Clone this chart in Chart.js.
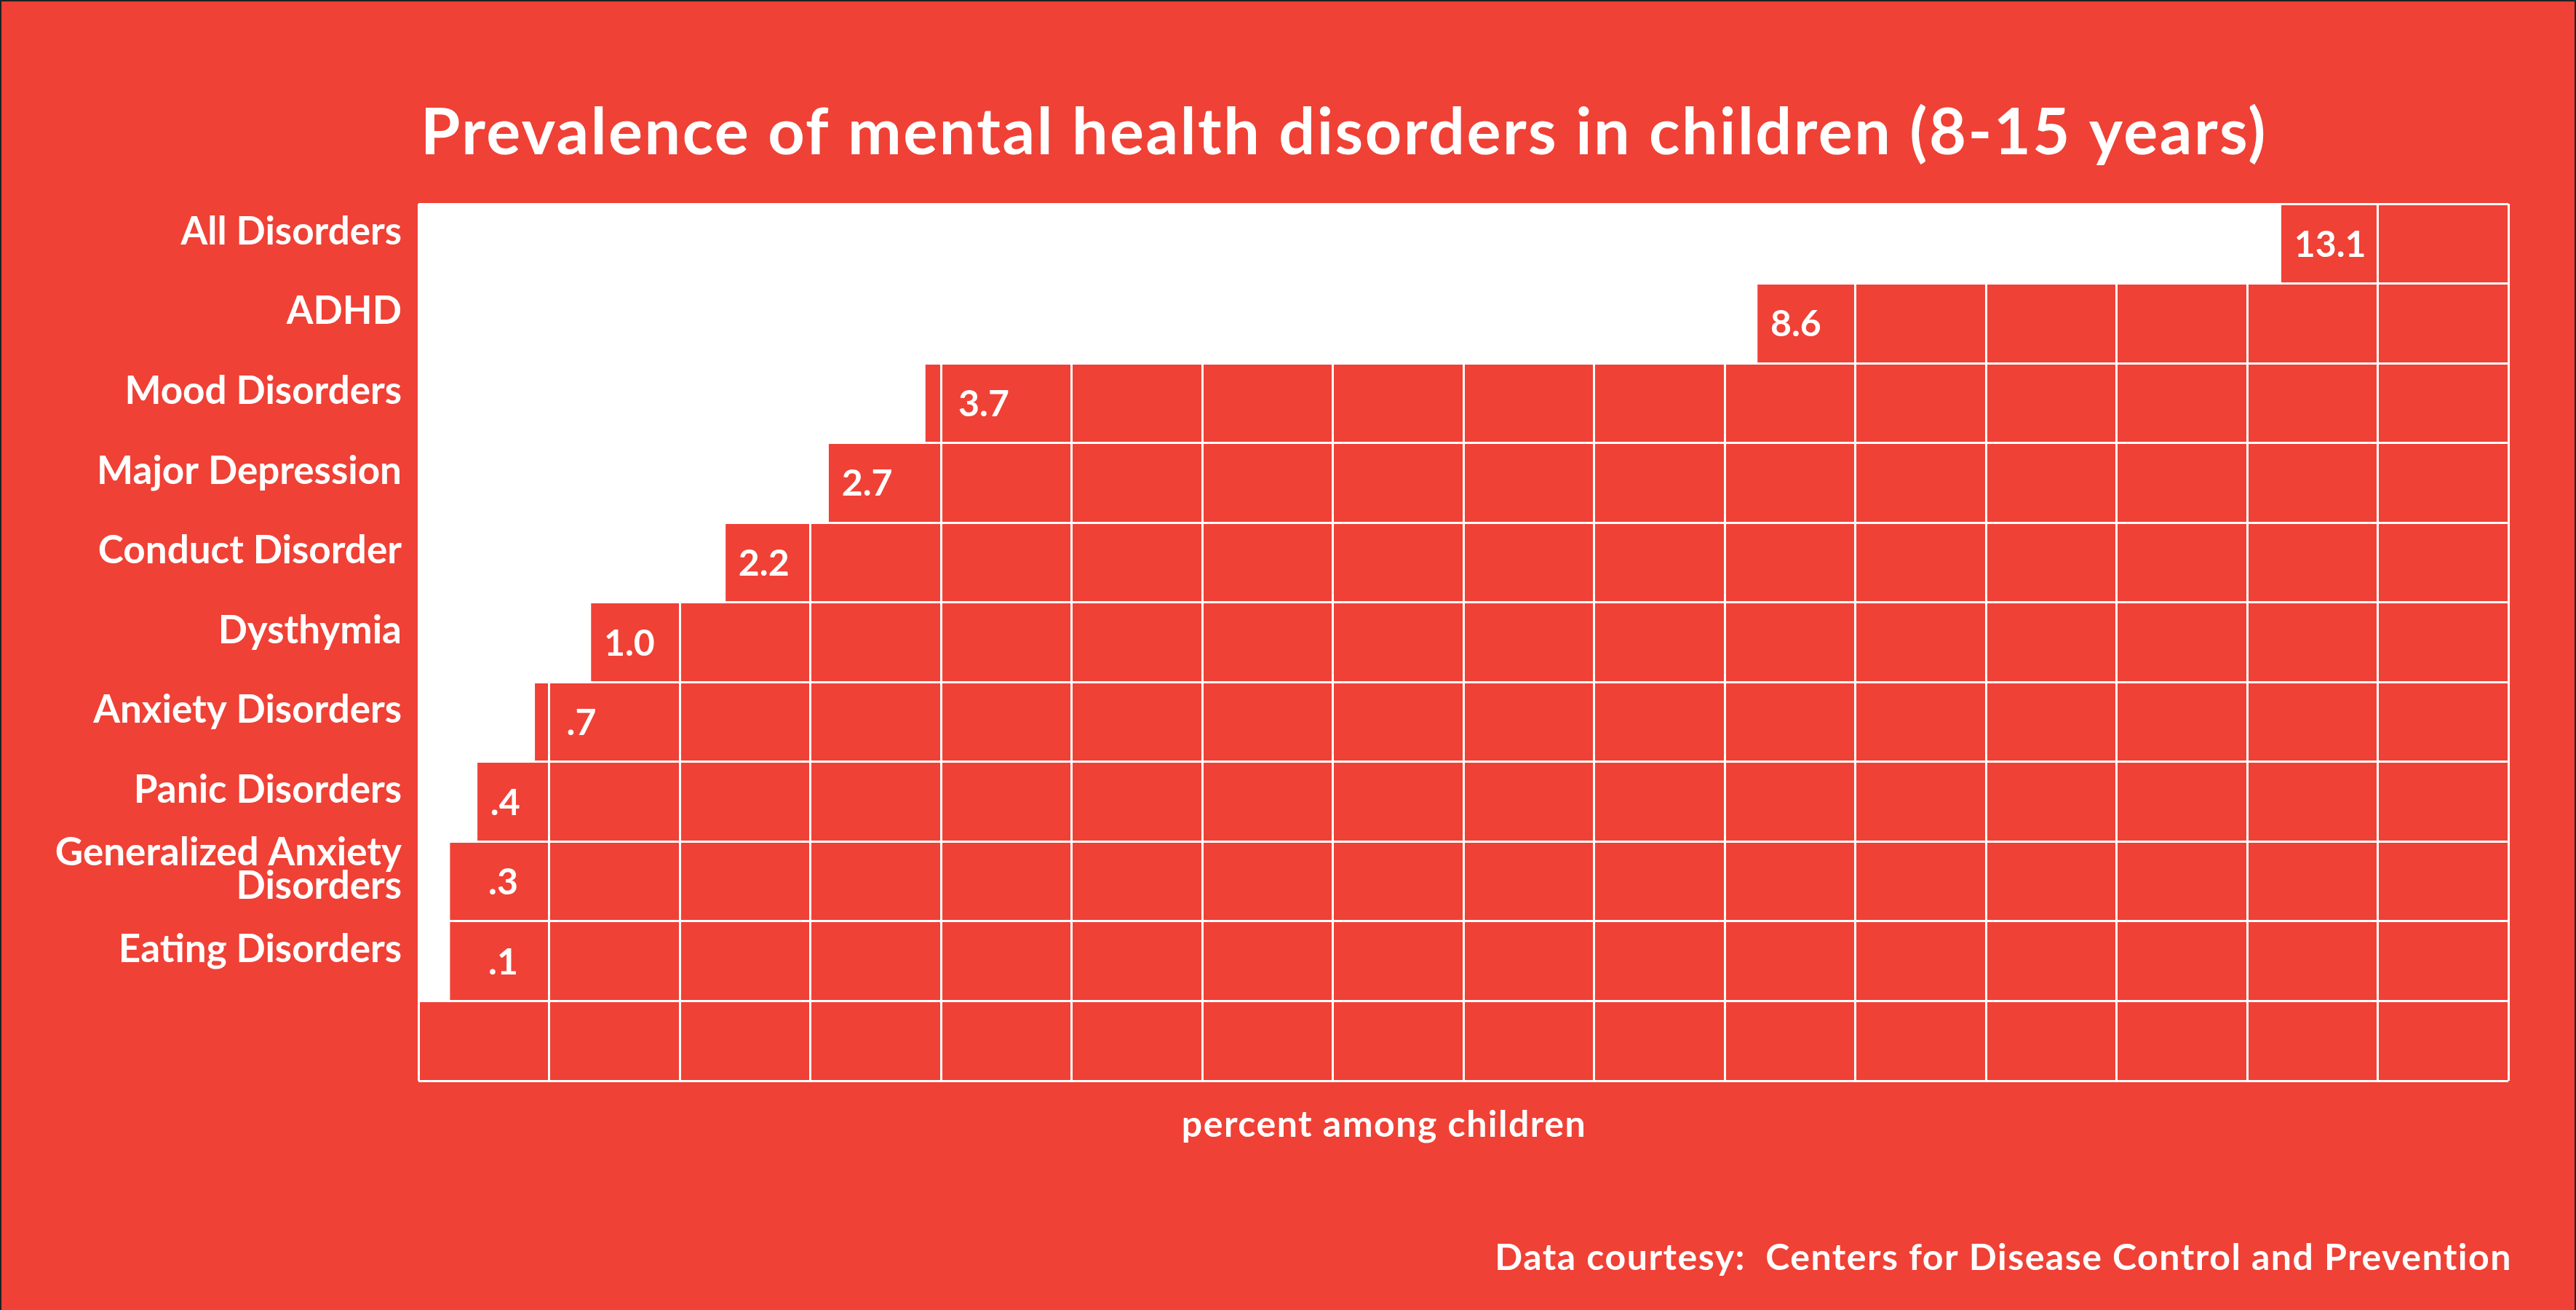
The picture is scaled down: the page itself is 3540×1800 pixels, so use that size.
<!DOCTYPE html>
<html>
<head>
<meta charset="utf-8">
<script src="https://cdn.jsdelivr.net/npm/chart.js@4.4.1/dist/chart.umd.min.js"></script>
<style>
    body { margin: 0; background: #ef4136; }
    canvas { display: block; }
</style>
</head>
<body>
<canvas id="disordersChart" width="3540" height="1800"></canvas>
<script>
const categories = [
    'All Disorders', 'ADHD', 'Mood Disorders', 'Major Depression', 'Conduct Disorder',
    'Dysthymia', 'Anxiety Disorders', 'Panic Disorders', ['Generalized Anxiety', 'Disorders'],
    'Eating Disorders', ''
];
// printed prevalence (percent)
const valueLabels = ['13.1', '8.6', '3.7', '2.7', '2.2', '1.0', '.7', '.4', '.3', '.1'];
// bar lengths as drawn in the original, counted in grid squares
const barLengths = [14.26, 10.25, 3.88, 3.14, 2.35, 1.32, 0.89, 0.45, 0.24, 0.24];
const gridMax = 16;

const titleText = 'Prevalence of mental health disorders in children (8-15 years)';
const axisText = 'percent among children';
const sourceText = 'Data courtesy:  Centers for Disease Control and Prevention';

const red = '#ef4136';
const family = 'Lato';


const decorations = {
    id: 'decorations',
    beforeDraw(chart) {
        const ctx = chart.ctx;
        ctx.save();
        ctx.fillStyle = red;
        ctx.fillRect(0, 0, chart.width, chart.height);
        ctx.restore();
    },
    afterDatasetsDraw(chart) {
        const ctx = chart.ctx;
        const xScale = chart.scales.x;
        const area = chart.chartArea;
        ctx.save();
        ctx.fillStyle = 'white';
        ctx.font = `bold 50px ${family}`;
        ctx.textAlign = 'left';
        ctx.textBaseline = 'alphabetic';
        chart.getDatasetMeta(0).data.forEach((bar, i) => {
            if (valueLabels[i] === undefined) return;
            let x = bar.x + 18;
            // jump over a grid line that sits right next to the bar end
            const nextLine = xScale.getPixelForValue(Math.ceil(barLengths[i]));
            if (nextLine - bar.x < 30) x = nextLine + 24;
            x = Math.max(x, area.left + 96);
            ctx.fillText(valueLabels[i], x, bar.y + 18);
        });
        ctx.restore();
    },
    afterDraw(chart) {
        const ctx = chart.ctx;
        const area = chart.chartArea;
        ctx.save();
        ctx.fillStyle = 'white';
        ctx.textBaseline = 'alphabetic';

        ctx.textAlign = 'center';
        ctx.font = `bold 88px ${family}`;
        ctx.letterSpacing = '2.5px';
        ctx.fillText(titleText, 1847, 212);

        ctx.font = `bold 50px ${family}`;
        ctx.letterSpacing = '1.5px';
        ctx.fillText(axisText, 1902, area.bottom + 77);

        ctx.textAlign = 'right';
        ctx.font = `bold 50px ${family}`;
        ctx.letterSpacing = '1.5px';
        ctx.fillText(sourceText, area.right + 5, 1745);
        ctx.letterSpacing = '0px';

        // thin dark frame of the original image
        ctx.fillStyle = '#202324';
        ctx.fillRect(0, 0, chart.width, 2);
        ctx.fillRect(0, 0, 2, chart.height);
        ctx.fillRect(chart.width - 2, 0, 2, chart.height);
        ctx.restore();
    }
};


const ctx = document.getElementById('disordersChart').getContext('2d');
const chart = new Chart(ctx, {
    type: 'bar',
    data: {
        labels: categories,
        datasets: [{
            data: barLengths,
            backgroundColor: 'white',
            borderWidth: 0,
            barPercentage: 1,
            categoryPercentage: 1
        }]
    },
    options: {
        indexAxis: 'y',
        responsive: false,
        animation: false,
        layout: {
            padding: { top: 280, right: 93, bottom: 315, left: 0 }
        },
        scales: {
            x: {
                type: 'linear',
                min: 0,
                max: gridMax,
                ticks: { display: false, stepSize: 1 },
                grid: { color: 'white', lineWidth: 3, drawTicks: false },
                border: { display: false },
                afterFit: scale => { scale.height = 0; }
            },
            y: {
                grid: { color: 'white', lineWidth: 3, drawTicks: false, offset: true },
                border: { display: false },
                ticks: {
                    color: 'white',
                    autoSkip: false,
                    padding: 23,
                    labelOffset: -16,
                    font: { family: family, size: 53, weight: 'bold', lineHeight: 0.86 }
                },
                afterFit: scale => { scale.width = 575; }
            }
        },
        plugins: {
            legend: { display: false },
            tooltip: { enabled: false }
        }
    },
    plugins: [decorations]
});
</script>
</body>
</html>
